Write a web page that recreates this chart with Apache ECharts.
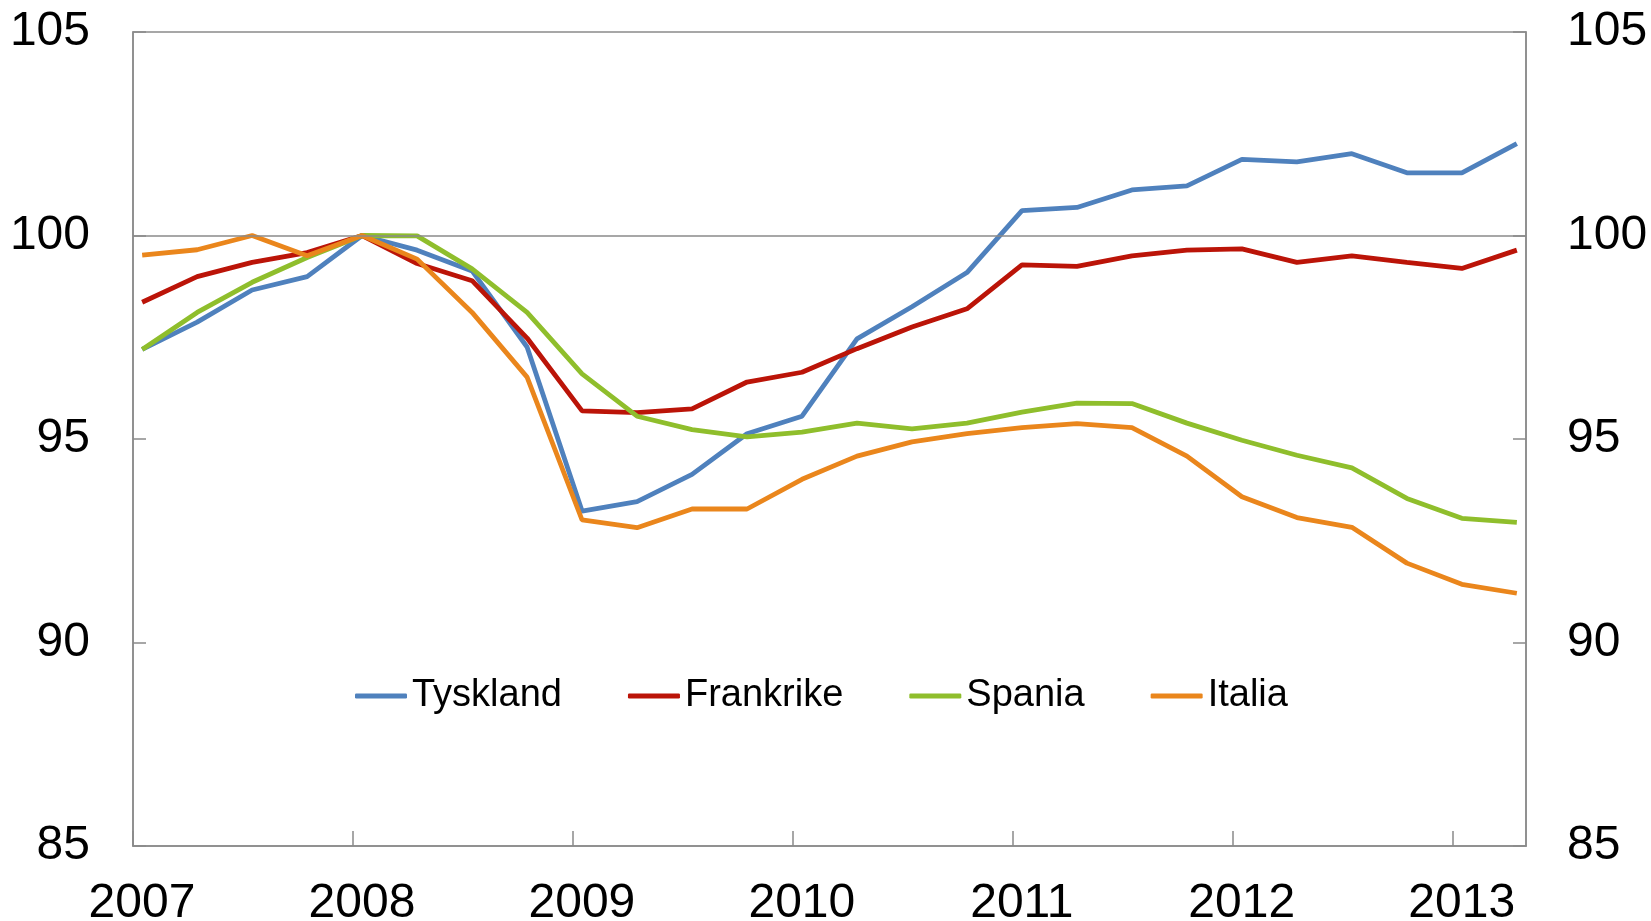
<!DOCTYPE html>
<html>
<head>
<meta charset="utf-8">
<script src="https://cdn.jsdelivr.net/npm/echarts@6/dist/echarts.min.js"></script>
<style>
  html, body { margin: 0; padding: 0; background: #fff; }
  #chart { width: 1651px; height: 921px; }
</style>
</head>
<body>
<div id="chart"></div>
<script>
// quarterly observations, first month of each quarter
const quarters = [
  '2007-01', '2007-04', '2007-07', '2007-10',
  '2008-01', '2008-04', '2008-07', '2008-10',
  '2009-01', '2009-04', '2009-07', '2009-10',
  '2010-01', '2010-04', '2010-07', '2010-10',
  '2011-01', '2011-04', '2011-07', '2011-10',
  '2012-01', '2012-04', '2012-07', '2012-10',
  '2013-01', '2013-04'
];
const years = ['2007', '2008', '2009', '2010', '2011', '2012', '2013'];

const tyskland = [97.20, 97.87, 98.66, 98.99, 100.0, 99.64, 99.13, 97.26, 93.23, 93.46, 94.13, 95.13, 95.56,
  97.46, 98.25, 99.09, 100.61, 100.69, 101.12, 101.22, 101.87, 101.81, 102.01, 101.54, 101.54, 102.26];
const frankrike = [98.36, 98.99, 99.34, 99.58, 100.0, 99.31, 98.89, 97.48, 95.69, 95.65, 95.74, 96.40, 96.64,
  97.22, 97.75, 98.20, 99.28, 99.24, 99.50, 99.64, 99.67, 99.34, 99.50, 99.34, 99.19, 99.64];
const spania = [97.20, 98.11, 98.85, 99.46, 100.0, 99.99, 99.18, 98.11, 96.60, 95.56, 95.23, 95.05, 95.17,
  95.39, 95.25, 95.39, 95.66, 95.88, 95.87, 95.39, 94.97, 94.60, 94.29, 93.54, 93.05, 92.95];
const italia = [99.52, 99.65, 100.0, 99.50, 100.0, 99.42, 98.11, 96.52, 93.01, 92.82, 93.28, 93.28, 94.01,
  94.58, 94.93, 95.13, 95.28, 95.38, 95.28, 94.58, 93.58, 93.07, 92.83, 91.95, 91.43, 91.21];

const startYear = Number(years[0]);
// month slots from Jan 2007, point sits in the middle of its month
function monthPos(q) {
  const [y, m] = q.split('-').map(Number);
  return (y - startYear) * 12 + (m - 1) + 0.5;
}
function pairs(values) {
  return values.map((v, i) => [monthPos(quarters[i]), v]);
}

const font = '"Liberation Sans", Arial, sans-serif';
const axisGrey = '#8a8a8a';

function makeLine(name, values, color) {
  return {
    name: name,
    type: 'line',
    data: pairs(values),
    symbol: 'none',
    lineStyle: { color: color, width: 4.8 },
    itemStyle: { color: color },
    z: 3
  };
}

function yAxis(pos, margin) {
  return {
    type: 'value',
    position: pos,
    min: 85,
    max: 105,
    interval: 5,
    axisLine: { show: true, lineStyle: { color: axisGrey, width: 1.5 } },
    axisTick: { show: true, inside: true, length: 13, lineStyle: { color: axisGrey, width: 1.5 } },
    axisLabel: { margin: margin, fontSize: 48, color: '#000', fontFamily: font },
    splitLine: { show: false }
  };
}

const chart = echarts.init(document.getElementById('chart'));
chart.setOption({
  animation: false,
  backgroundColor: '#fff',
  grid: {
    left: 133, right: 125, top: 32, bottom: 75,
    show: true, borderColor: axisGrey, borderWidth: 1.5,
    containLabel: false,
    outerBoundsMode: 'none'
  },
  legend: {
    data: ['Tyskland', 'Frankrike', 'Spania', 'Italia'],
    left: 350,
    top: 669,
    icon: 'roundRect',
    itemWidth: 52,
    itemHeight: 5,
    itemGap: 66,
    textStyle: { fontSize: 38, color: '#000', fontFamily: font, lineHeight: 44 }
  },
  xAxis: {
    type: 'value',
    min: 0,
    max: (years.length - 1) * 12 + 4,
    interval: 12,
    axisLine: { show: true, lineStyle: { color: axisGrey, width: 1.5 } },
    axisTick: { show: true, inside: true, length: 15, lineStyle: { color: axisGrey, width: 1.5 } },
    axisLabel: {
      margin: 34,
      fontSize: 48,
      color: '#000',
      fontFamily: font,
      padding: [0, 0, 0, 18],
      showMaxLabel: false,
      formatter: function (v) {
        return v % 12 === 0 ? years[v / 12] || '' : '';
      }
    },
    splitLine: { show: false }
  },
  yAxis: [yAxis('left', 43), yAxis('right', 41)],
  series: [
    {
      name: 'ref',
      type: 'line',
      data: [],
      z: 1,
      markLine: {
        silent: true,
        symbol: 'none',
        label: { show: false },
        lineStyle: { color: axisGrey, width: 1.5, type: 'solid' },
        data: [{ yAxis: 100 }]
      }
    },
    makeLine('Tyskland', tyskland, '#4f81bd'),
    makeLine('Frankrike', frankrike, '#bb1408'),
    makeLine('Spania', spania, '#8fbe2c'),
    makeLine('Italia', italia, '#ea861c')
  ]
});
</script>
</body>
</html>
